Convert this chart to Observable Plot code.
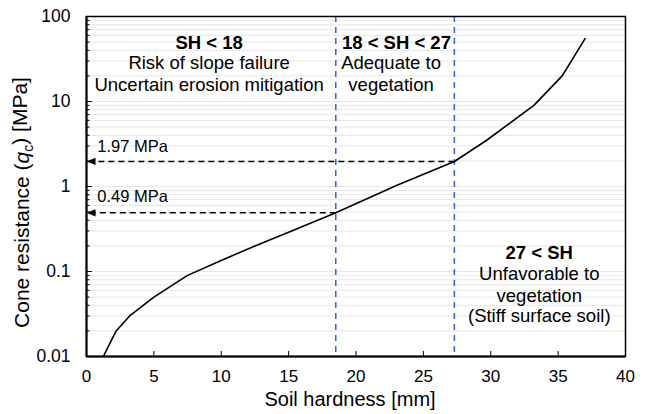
<!DOCTYPE html>
<html><head><meta charset="utf-8">
<script src="https://cdn.jsdelivr.net/npm/d3@7"></script>
<script src="https://cdn.jsdelivr.net/npm/@observablehq/plot@0.6"></script>
<style>body{margin:0;background:#fff}#chart{width:646px;height:414px}</style>
</head><body><div id="chart"></div>
<script>
// Curve: soil hardness [mm] vs cone resistance [MPa]
const shX = [1.25, 2.2, 3.2, 5, 7.5, 10, 12.5, 15, 18.5, 23, 27.3, 29.7, 33.2, 35.3, 37];
const qc  = [0.01, 0.02, 0.03, 0.05, 0.09, 0.135, 0.2, 0.29, 0.49, 1.03, 1.97, 3.5, 9, 20, 55];
// Zone boundaries and matching qc values
const shBounds = [18.5, 27.3];
const qcMarks = [0.49, 1.97];
const qcLabels = ["0.49 MPa", "1.97 MPa"];
const qcLabelY = [0.76, 2.96];
// Ticks
const xTicks = [0, 5, 10, 15, 20, 25, 30, 35, 40];
const yTicks = [0.01, 0.1, 1, 10, 100];
const yTickLabels = ["0.01", "0.1", "1", "10", "100"];
const minorTicks = [];
for (const d of [0.01, 0.1, 1, 10]) for (let k = 2; k <= 9; k++) minorTicks.push(+(d * k).toPrecision(3));
const gridTicks = yTicks.concat(minorTicks);
// Zone annotations
const zoneTitles = ["SH < 18", "18 < SH < 27", "27 < SH"];
const zoneTitleX = [9.1, 23.0, 33.6];
const zoneTitleY = [49, 49, 0.163];
const zoneLines = ["Risk of slope failure", "Uncertain erosion mitigation", "Adequate to", "vegetation", "Unfavorable to", "vegetation", "(Stiff surface soil)"];
const zoneLineX = [9.1, 9.1, 22.6, 22.6, 33.6, 33.6, 33.6];
const zoneLineY = [28, 15.8, 28, 15.8, 0.092, 0.052, 0.0296];

const curve = shX.map((x, i) => ({x, y: qc[i]}));
const leftTriangle = {draw(ctx) { ctx.moveTo(-5, 0); ctx.lineTo(4, -3.6); ctx.lineTo(4, 3.6); ctx.closePath(); }};

const chart = Plot.plot({
  width: 646, height: 414,
  marginLeft: 86, marginRight: 21, marginTop: 16, marginBottom: 58,
  style: {fontFamily: "'Liberation Sans', Arial, sans-serif", fontSize: "17px", color: "#000", background: "#fff"},
  x: {domain: [0, 40]},
  y: {type: "log", domain: [0.01, 100]},
  marks: [
    Plot.ruleY(gridTicks, {stroke: "#e6e6e6", strokeWidth: 1}),
    Plot.ruleX(shBounds, {stroke: "#3a5bd9", strokeWidth: 1.5, strokeDasharray: "6,5"}),
    Plot.link(qcMarks, {x1: (d, i) => shBounds[i], x2: () => 0, y1: d => d, y2: d => d, stroke: "#000", strokeWidth: 1.5, strokeDasharray: "6,4"}),
    Plot.dot(qcMarks, {x: () => 0, y: d => d, symbol: leftTriangle, r: 4.5, fill: "#000", stroke: "none", dx: 5}),
    Plot.text(qcLabels, {x: () => 0.8, y: (d, i) => qcLabelY[i], text: d => d, textAnchor: "start", fontSize: 16.5}),
    Plot.line(curve, {x: "x", y: "y", stroke: "#000", strokeWidth: 1.6}),
    Plot.text(zoneTitles, {x: (d, i) => zoneTitleX[i], y: (d, i) => zoneTitleY[i], text: d => d, fontWeight: "bold", fontSize: 18.5}),
    Plot.text(zoneLines, {x: (d, i) => zoneLineX[i], y: (d, i) => zoneLineY[i], text: d => d, fontSize: 18.5}),
    Plot.frame({stroke: "#000", strokeWidth: 1.5}),
    Plot.ruleX([0], {stroke: "#000", strokeWidth: 2}),
    Plot.ruleY([0.01], {stroke: "#000", strokeWidth: 2}),
    Plot.axisY(yTicks, {tickSize: 6, dx: 6, fill: "none", label: null}),
    Plot.axisY(minorTicks, {tickSize: 3.5, dx: 3.5, fill: "none", label: null}),
    Plot.axisY(yTicks, {tickSize: 0, tickPadding: 16, tickFormat: d => yTickLabels[yTicks.indexOf(d)], label: null, fontSize: 17.5}),
    Plot.axisX(xTicks, {tickSize: 5, dy: -5, fill: "none", label: null}),
    Plot.axisX(xTicks, {tickSize: 0, tickPadding: 13, label: null, fontSize: 17}),
    Plot.text(["Soil hardness [mm]"], {frameAnchor: "bottom", dy: 49, dx: -6, text: d => d, fontSize: 20}),
    Plot.text(["Cone resistance (qc) [MPa]"], {frameAnchor: "left", dx: -64, dy: 16, rotate: -90, text: d => d, fontSize: 21})
  ]
});
document.getElementById("chart").appendChild(chart);
// rich text for the y-axis title: italic q with subscript c
d3.select(chart).selectAll("text").filter(function() { return this.textContent === "Cone resistance (qc) [MPa]"; })
  .each(function() {
    const t = d3.select(this);
    t.text(null).attr("text-anchor", "middle");
    t.append("tspan").text("Cone resistance (");
    t.append("tspan").attr("font-style", "italic").text("q");
    t.append("tspan").attr("font-size", "14px").attr("dy", "0.3em").text("c");
    t.append("tspan").attr("dy", "-0.3em").text(") [MPa]");
  });
</script>
</body></html>
